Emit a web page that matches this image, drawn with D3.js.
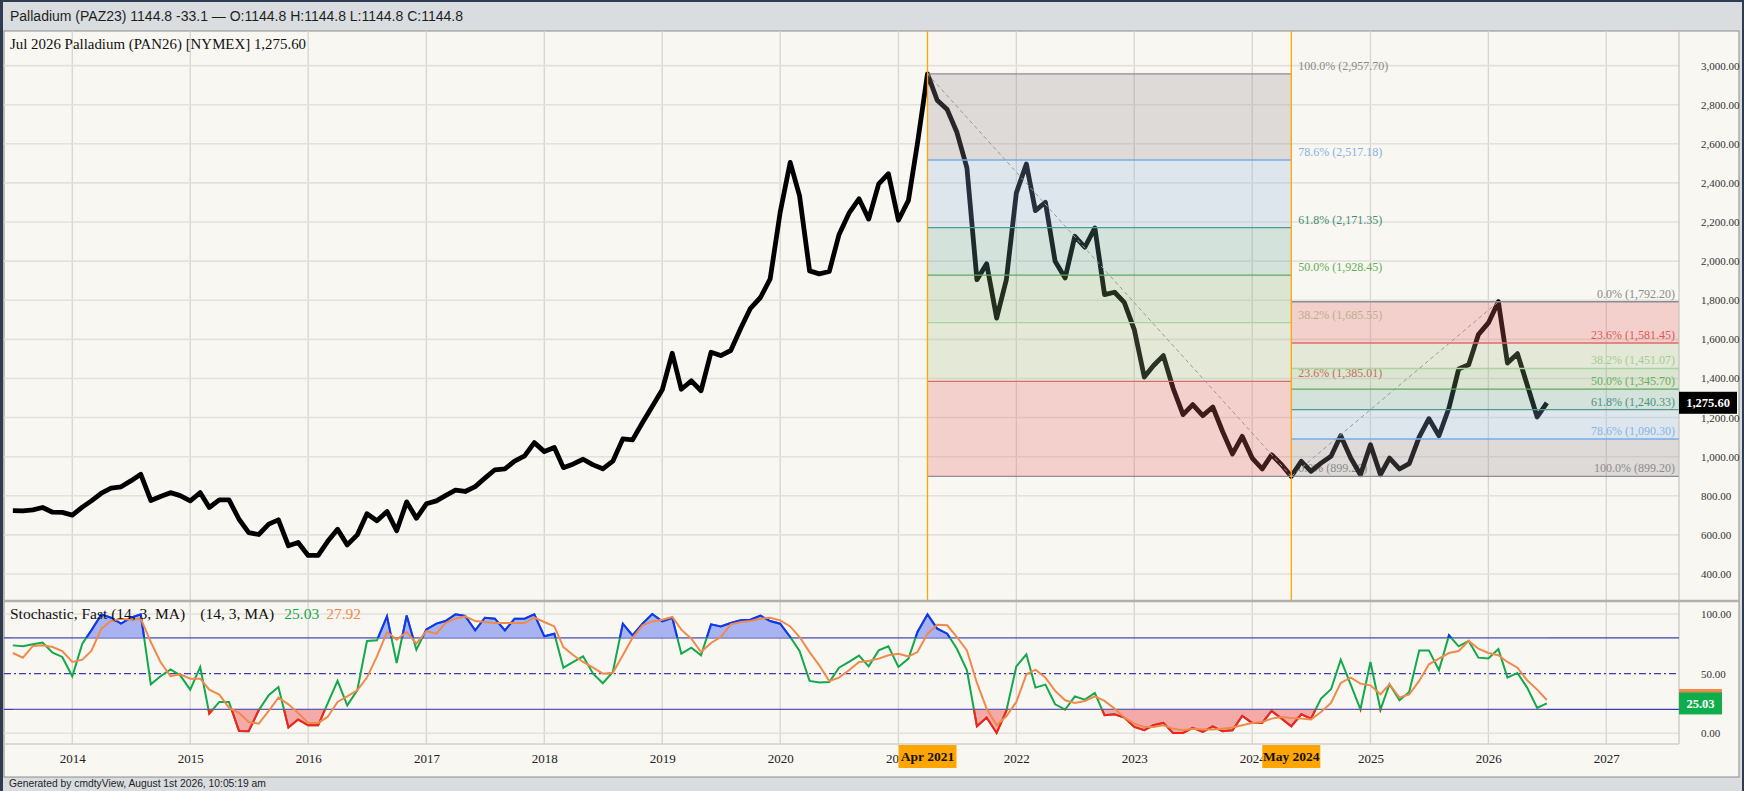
<!DOCTYPE html>
<html>
<head>
<meta charset="utf-8">
<script src="https://cdn.jsdelivr.net/npm/d3@7"></script>
<style>
html, body { margin: 0; padding: 0; background: #2e3b50; }
svg { display: block; }
</style>
</head>
<body>
<svg id="chart" width="1744" height="791"></svg>
<script>
// monthly closes, Jul 2013 .. Jul 2026
const firstMonth = new Date(2013, 6, 1);
const lastMonth = new Date(2026, 6, 1);
const price = [
  724, 723, 728, 740, 716, 715,
  701, 742, 774, 813, 839, 846, 876, 910, 776, 796, 816, 801,
  774, 816, 740, 779, 779, 680, 612, 602, 655, 677, 544, 561,
  495, 495, 566, 629, 549, 600, 708, 672, 720, 621, 769, 685,
  759, 774, 801, 829, 822, 847, 890, 933, 938, 977, 1004, 1072,
  1026, 1047, 944, 963, 987, 958, 938, 977, 1091, 1086, 1175, 1257,
  1342, 1529, 1345, 1388, 1337, 1534, 1517, 1543, 1657, 1759, 1814, 1909,
  2250, 2505, 2334, 1950, 1935, 1947, 2135, 2245, 2319, 2215, 2395, 2447,
  2209, 2311, 2604, 2957.7, 2823, 2775, 2659, 2477, 1905, 1987, 1709, 1905,
  2349, 2497, 2258, 2301, 1999, 1914, 2127, 2071, 2170, 1829, 1841, 1789,
  1650, 1407, 1465, 1517, 1351, 1215, 1266, 1210, 1254, 1130, 1014, 1104,
  993, 937, 1010, 959, 899.2, 976, 925, 967, 1002, 1107, 993, 908,
  1061, 908, 993, 937, 964, 1101, 1194, 1107, 1249, 1448, 1470, 1624,
  1684, 1792.2, 1479, 1527, 1368, 1203, 1275.6
];
// stochastic fast %K and %D
const stochK = [
  73.7, 72.9, 74.6, 76, 67.6, 64,
  47.8, 75.1, 86.3, 99.7, 96.9, 91.9, 96.9, 99.7, 41.1, 47.8, 53.6, 48.6,
  36.6, 55.6, 16.5, 26.3, 26.3, 2, 1.7, 19.3, 31.9, 38.8, 4.8, 11.5,
  6.7, 6.7, 24.9, 43.9, 23.5, 36, 77.4, 77.9, 98, 58.9, 98.8, 70.1,
  87.1, 91.9, 94.1, 99.7, 98.3, 86.3, 96.9, 96.1, 86.3, 96.1, 96.1, 99.7,
  81.3, 83.5, 55, 59.8, 64.5, 50, 42, 51.4, 91.9, 82.1, 91.9, 100,
  93.8, 96.9, 66.7, 71.8, 65.4, 91.3, 89.6, 92.4, 94.7, 95.2, 98.6, 94.1,
  91.9, 80.7, 69, 43.9, 42.5, 43, 55, 59.8, 65.1, 56.1, 69.5, 72.9,
  55.6, 62.6, 84.9, 99.7, 87.7, 83.5, 70.9, 52.8, 5.9, 13.2, 0.3, 18.7,
  56.1, 66.2, 38.3, 40.8, 24.3, 19.9, 31, 28.2, 33.8, 15.1, 16, 13.2,
  5.3, 2.6, 6.7, 8.7, 0.3, 0.3, 4.5, 1.2, 5.9, 1.7, 2.6, 14.6,
  8.7, 8.7, 18.7, 12.3, 5.9, 15.9, 12.3, 29.1, 36.9, 61.7, 40.8, 20.1,
  59.8, 19.9, 41.1, 27.7, 34.7, 69.5, 69.5, 52.8, 82.1, 72.9, 77.4, 63.4,
  62.8, 70.7, 46.7, 50.6, 38.3, 21.3, 25.03
];
const stochD = [
  67.3, 63.4, 73.2, 73.7, 72.3, 69,
  59.8, 61.7, 69, 87.7, 94.1, 96.1, 95.2, 96.1, 76.5, 59.8, 48, 49.4,
  45.8, 45.8, 36.6, 32.4, 21.5, 17.1, 9.5, 8.1, 18.7, 29.9, 24.3, 17.1,
  8.7, 8.7, 13.7, 26.3, 31, 36, 46.7, 64.5, 84.9, 78.5, 84.9, 75.1,
  85.7, 83.5, 92.4, 96.1, 98, 94.1, 93.3, 92.4, 92.4, 92.4, 92.4, 96.9,
  93.3, 89.6, 72.3, 65.4, 59.8, 55, 50, 50.8, 65.4, 80, 90.5, 93.8,
  95.2, 97.5, 86.9, 79.3, 68.1, 75.7, 80.7, 91.3, 93.3, 94.1, 96.1, 96.9,
  94.7, 89.6, 80.7, 68.1, 57, 43.9, 46.7, 52.8, 59.8, 60.6, 62.6, 65.4,
  66.7, 64.5, 68.1, 83.5, 91, 90.5, 80.7, 69.5, 42.2, 20.7, 6.7, 14.3,
  26.3, 49.4, 53.3, 46.7, 35.5, 27.7, 25.4, 27.1, 31, 27.1, 20.7, 13.2,
  8.1, 5.3, 5.3, 6.7, 3.9, 2.6, 3.9, 3.1, 3.1, 3.9, 4.8, 6.7,
  8.7, 9.5, 12.3, 13.7, 12.9, 12.3, 11.5, 17.9, 25.4, 42.2, 46.7, 41.6,
  40.2, 32.7, 41.1, 29.9, 32.7, 43.9, 57.8, 62.6, 67.3, 69, 77.4, 70.9,
  67.3, 65.4, 59.8, 55, 44.4, 36.6, 27.92
];

const priceTicks = [400, 600, 800, 1000, 1200, 1400, 1600, 1800, 2000, 2200, 2400, 2600, 2800, 3000];
const stochTicks = [0, 50, 100];
const stochBands = [20, 80];

// fibonacci retracements: Apr 2021 high -> May 2024 low, May 2024 low -> Feb 2026 high
const fib1Start = new Date(2021, 3, 1), fib1End = new Date(2024, 4, 1);
const fib1Pct = ["100.0%", "78.6%", "61.8%", "50.0%", "38.2%", "23.6%", "0.0%"];
const fib1Levels = [2957.70, 2517.18, 2171.35, 1928.45, 1685.55, 1385.01, 899.20];
const fib2Start = new Date(2024, 4, 1), fib2End = new Date(2026, 1, 1);
const fib2Pct = ["0.0%", "23.6%", "38.2%", "50.0%", "61.8%", "78.6%", "100.0%"];
const fib2Levels = [1792.20, 1581.45, 1451.07, 1345.70, 1240.33, 1090.30, 899.20];

const lastPrice = 1275.60, lastK = 25.03, lastD = 27.92;

// colours per level
const levelLine = {"100.0%": "#8d8b93", "78.6%": "#74aee9", "61.8%": "#4f9c89", "50.0%": "#62a95c",
                   "38.2%": "#a9d5a0", "23.6%": "#e06a6a", "0.0%": "#8d8b93"};
const levelText = {"100.0%": "#8a8a8a", "78.6%": "#80b4e8", "61.8%": "#3f8e74", "50.0%": "#5fae55",
                   "38.2%": "#a4cf94", "23.6%": "#d9534f", "0.0%": "#8a8a8a"};
const zoneFill = {"100.0%|78.6%": "rgba(148,142,148,0.27)", "78.6%|61.8%": "rgba(145,183,229,0.26)",
                  "61.8%|50.0%": "rgba(105,167,157,0.26)", "50.0%|38.2%": "rgba(137,179,121,0.26)",
                  "38.2%|23.6%": "rgba(165,195,141,0.26)", "23.6%|0.0%": "rgba(233,103,105,0.27)"};

const dates = d3.timeMonth.range(firstMonth, d3.timeMonth.offset(lastMonth, 1));
const rows = dates.map((d, i) => ({date: d, p: price[i], k: stochK[i], dd: stochD[i]}));

// layout
const L = 4, R = 1679, FR = 1739;
const pTop = 31, pBot = 600, sTop = 602, sBot = 744;

const x = d3.scaleTime().domain([new Date(2014, 0, 1), new Date(2027, 0, 1)]).range([72.3, 1606.3]);
const y = d3.scaleLinear().domain([400, 3000]).range([574, 65.6]);
const ys = d3.scaleLinear().domain([0, 100]).range([733.3, 614]);

const serif = "'Liberation Serif', 'Times New Roman', serif";
const sans = "'Liberation Sans', Arial, sans-serif";

const svg = d3.select("#chart");
const defs = svg.append("defs");
function clip(id, x0, y0, w, h) {
  defs.append("clipPath").attr("id", id).append("rect").attr("x", x0).attr("y", y0).attr("width", w).attr("height", h);
}
clip("pclip", L, pTop, R - L, pBot - pTop);
clip("sclip", L, sTop, R - L, sBot - sTop);
clip("above80", L, sTop, R - L, ys(80) - sTop);
clip("below20", L, ys(20), R - L, sBot - ys(20));

// page chrome
svg.append("rect").attr("x", 0).attr("y", 0).attr("width", 1744).attr("height", 791).attr("fill", "#2e3b50");
svg.append("rect").attr("x", 3).attr("y", 2).attr("width", 1739).attr("height", 789).attr("fill", "#d9dde0");
svg.append("text").attr("x", 10).attr("y", 21).attr("font-family", sans).attr("font-size", 14).attr("fill", "#1e1e1e")
  .text("Palladium (PAZ23) 1144.8 -33.1 \u2014 O:1144.8 H:1144.8 L:1144.8 C:1144.8");
svg.append("rect").attr("x", L).attr("y", pTop).attr("width", FR - L).attr("height", 777 - pTop)
  .attr("fill", "#f9f7f1").attr("stroke", "#8c8c8c");
svg.append("text").attr("x", 9).attr("y", 787).attr("font-family", sans).attr("font-size", 10.3).attr("fill", "#222")
  .text("Generated by cmdtyView, August 1st 2026, 10:05:19 am");

// grid
const yearTicks = x.ticks(d3.timeYear.every(1));
const grid = svg.append("g");
grid.selectAll(".vg").data(yearTicks).enter().append("line")
  .attr("x1", d => x(d)).attr("x2", d => x(d)).attr("y1", pTop).attr("y2", sBot)
  .attr("stroke", "#d6d5d2").attr("stroke-width", 1.3);
grid.selectAll(".hg").data(priceTicks).enter().append("line")
  .attr("x1", L).attr("x2", R).attr("y1", d => y(d)).attr("y2", d => y(d))
  .attr("stroke", "#e3e1dc").attr("stroke-width", 1.6);
grid.selectAll(".sg").data([0, 100]).enter().append("line")
  .attr("x1", L).attr("x2", R).attr("y1", d => ys(d)).attr("y2", d => ys(d))
  .attr("stroke", "#e3e1dc").attr("stroke-width", 1.6);

// fib labels (under the fills, like the original)
const priceG = svg.append("g").attr("clip-path", "url(#pclip)");
priceG.selectAll(".f1t").data(fib1Levels).enter().append("text")
  .attr("x", x(fib1End) + 7).attr("y", d => y(d) - 4)
  .attr("font-family", serif).attr("font-size", 12)
  .attr("fill", (d, i) => levelText[fib1Pct[i]])
  .text((d, i) => fib1Pct[i] + " (" + d3.format(",.2f")(d) + ")");
priceG.selectAll(".f2t").data(fib2Levels).enter().append("text")
  .attr("x", R - 4).attr("y", d => y(d) - 4).attr("text-anchor", "end")
  .attr("font-family", serif).attr("font-size", 12)
  .attr("fill", (d, i) => levelText[fib2Pct[i]])
  .text((d, i) => fib2Pct[i] + " (" + d3.format(",.2f")(d) + ")");

// price line
priceG.append("path").datum(rows)
  .attr("d", d3.line().x(d => x(d.date)).y(d => y(d.p)))
  .attr("fill", "none").attr("stroke", "#000").attr("stroke-width", 4.8).attr("stroke-linejoin", "round");

// fib zones + level lines
function fibSet(levels, pcts, x0, x1) {
  const zones = d3.pairs(levels.map((v, i) => ({v: v, pct: pcts[i]})));
  priceG.selectAll(null).data(zones).enter().append("rect")
    .attr("x", x0).attr("width", x1 - x0)
    .attr("y", d => Math.min(y(d[0].v), y(d[1].v)))
    .attr("height", d => Math.abs(y(d[0].v) - y(d[1].v)))
    .attr("fill", d => zoneFill[d[0].pct + "|" + d[1].pct] || zoneFill[d[1].pct + "|" + d[0].pct]);
  priceG.selectAll(null).data(levels).enter().append("line")
    .attr("x1", x0).attr("x2", x1).attr("y1", d => y(d)).attr("y2", d => y(d))
    .attr("stroke", (d, i) => levelLine[pcts[i]]).attr("stroke-width", 1.3);
}
fibSet(fib1Levels, fib1Pct, x(fib1Start), x(fib1End));
fibSet(fib2Levels, fib2Pct, x(fib2Start), R);

// dashed swing lines
const swings = [[fib1Start, fib1Levels[0], fib1End, fib1Levels[6]], [fib2Start, fib2Levels[6], fib2End, fib2Levels[0]]];
priceG.selectAll(".sw").data(swings).enter().append("line")
  .attr("x1", d => x(d[0])).attr("y1", d => y(d[1])).attr("x2", d => x(d[2])).attr("y2", d => y(d[3]))
  .attr("stroke", "#9a9a9a").attr("stroke-width", 1).attr("stroke-dasharray", "4,3");

// orange markers
priceG.selectAll(".ov").data([fib1Start, fib1End]).enter().append("line")
  .attr("x1", d => x(d)).attr("x2", d => x(d)).attr("y1", pTop).attr("y2", pBot)
  .attr("stroke", "#ffa500").attr("stroke-width", 1.3);

// panel separators / borders
svg.append("line").attr("x1", L).attr("x2", FR).attr("y1", pBot + 1).attr("y2", pBot + 1).attr("stroke", "#b3afaa").attr("stroke-width", 2.5);
svg.append("line").attr("x1", L).attr("x2", R).attr("y1", sBot).attr("y2", sBot).attr("stroke", "#d2d0cc").attr("stroke-width", 1.5);
svg.append("line").attr("x1", R).attr("x2", R).attr("y1", pTop).attr("y2", sBot).attr("stroke", "#bdbab5").attr("stroke-width", 1);

// stochastic panel
const sG = svg.append("g").attr("clip-path", "url(#sclip)");
sG.selectAll(".band").data(stochBands).enter().append("line")
  .attr("x1", L).attr("x2", R).attr("y1", d => ys(d)).attr("y2", d => ys(d))
  .attr("stroke", "#3b3fae").attr("stroke-width", 1.2);
sG.append("line").attr("x1", L).attr("x2", R).attr("y1", ys(50)).attr("y2", ys(50))
  .attr("stroke", "#3b3fae").attr("stroke-width", 1.1).attr("stroke-dasharray", "7,3,2,3");

sG.append("path").datum(rows).attr("clip-path", "url(#above80)")
  .attr("d", d3.area().x(d => x(d.date)).y0(ys(80)).y1(d => ys(d.k)))
  .attr("fill", "#aab3f1");
sG.append("path").datum(rows).attr("clip-path", "url(#below20)")
  .attr("d", d3.area().x(d => x(d.date)).y0(ys(20)).y1(d => ys(d.k)))
  .attr("fill", "#f5aaaa");

const kLine = d3.line().x(d => x(d.date)).y(d => ys(d.k));
sG.append("path").datum(rows).attr("d", kLine).attr("fill", "none").attr("stroke", "#12a84b").attr("stroke-width", 2);
sG.append("path").datum(rows).attr("d", kLine).attr("clip-path", "url(#above80)")
  .attr("fill", "none").attr("stroke", "#1431ff").attr("stroke-width", 2);
sG.append("path").datum(rows).attr("d", kLine).attr("clip-path", "url(#below20)")
  .attr("fill", "none").attr("stroke", "#ff1d1d").attr("stroke-width", 2);
sG.append("path").datum(rows)
  .attr("d", d3.line().x(d => x(d.date)).y(d => ys(d.dd)))
  .attr("fill", "none").attr("stroke", "#f08a4b").attr("stroke-width", 2);

// headers
svg.append("text").attr("x", 10).attr("y", 49).attr("font-family", serif).attr("font-size", 14.9).attr("fill", "#111")
  .text("Jul 2026 Palladium (PAN26) [NYMEX] 1,275.60");
const sh = svg.append("text").attr("x", 10).attr("y", 619).attr("font-family", serif).attr("font-size", 15.5)
  .attr("fill", "#111");
sh.append("tspan").text("Stochastic, Fast (14, 3, MA)");
sh.append("tspan").attr("dx", 15).text("(14, 3, MA)");
sh.append("tspan").attr("dx", 10).attr("fill", "#12a84b").text(d3.format(".2f")(lastK));
sh.append("tspan").attr("dx", 7).attr("fill", "#f08a4b").text(d3.format(".2f")(lastD));

// right axes
const yAxis = svg.append("g").attr("transform", `translate(${R},0)`)
  .call(d3.axisRight(y).tickValues(priceTicks).tickFormat(d3.format(",.2f")).tickSize(0).tickPadding(22));
const sAxis = svg.append("g").attr("transform", `translate(${R},0)`)
  .call(d3.axisRight(ys).tickValues(stochTicks).tickFormat(d3.format(".2f")).tickSize(0).tickPadding(22));
[yAxis, sAxis].forEach(g => {
  g.select(".domain").remove();
  g.selectAll("text").attr("font-family", serif).attr("font-size", 11).attr("fill", "#333");
});

// last value tags
function tag(v, scale, w, fill, txt) {
  svg.append("rect").attr("x", R).attr("y", scale(v) - 11).attr("width", w).attr("height", 22).attr("fill", fill);
  svg.append("text").attr("x", R + w / 2).attr("y", scale(v) + 4.5).attr("text-anchor", "middle")
    .attr("font-family", serif).attr("font-size", 12.5).attr("font-weight", "bold").attr("fill", "#fff").text(txt);
}
tag(lastPrice, y, 58, "#000", d3.format(",.2f")(lastPrice));
svg.append("rect").attr("x", R).attr("y", ys(lastD) - 11).attr("width", 43).attr("height", 22).attr("fill", "#f08a4b");
tag(lastK, ys, 43, "#10ad4c", d3.format(".2f")(lastK));

// bottom axis
const xAxis = svg.append("g").attr("transform", `translate(0,${sBot})`)
  .call(d3.axisBottom(x).ticks(d3.timeYear.every(1)).tickFormat(d3.timeFormat("%Y")).tickSize(0).tickPadding(10));
xAxis.select(".domain").remove();
xAxis.selectAll("text").attr("font-family", serif).attr("font-size", 13).attr("fill", "#222");

const marks = [fib1Start, fib1End];
svg.selectAll(".mk").data(marks).enter().append("rect")
  .attr("x", d => x(d) - 29).attr("y", sBot + 1).attr("width", 58).attr("height", 23).attr("fill", "#ffa500");
svg.selectAll(".mkt").data(marks).enter().append("text")
  .attr("x", d => x(d)).attr("y", sBot + 17).attr("text-anchor", "middle")
  .attr("font-family", serif).attr("font-size", 13.5).attr("font-weight", "bold").attr("fill", "#111")
  .text(d3.timeFormat("%b %Y"));
</script>
</body>
</html>
